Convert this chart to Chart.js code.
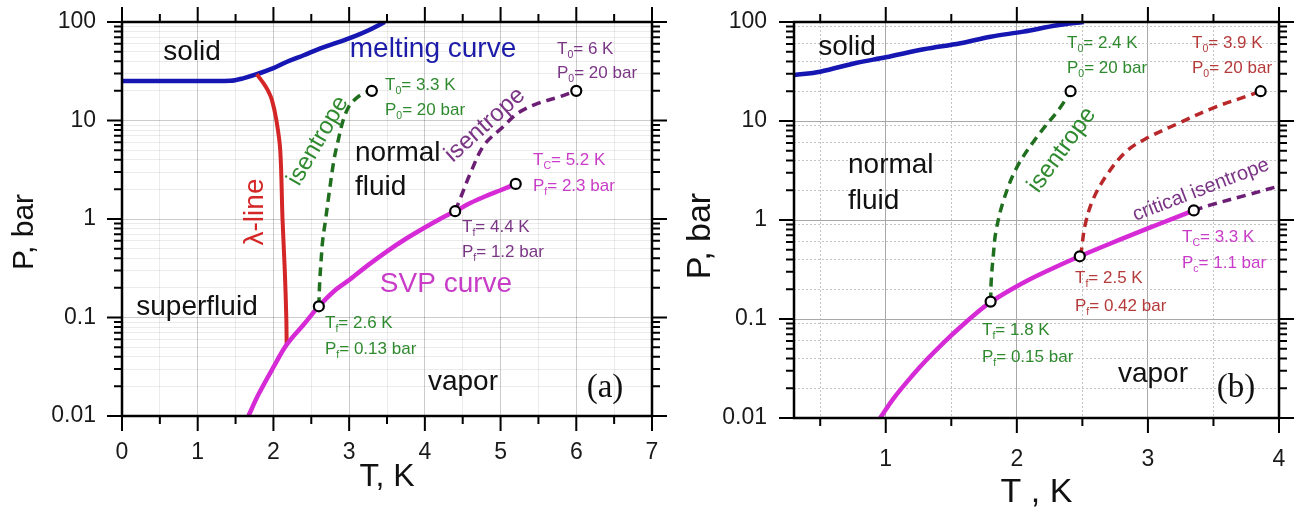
<!DOCTYPE html>
<html>
<head>
<meta charset="utf-8">
<script src="https://cdn.jsdelivr.net/npm/chart.js"></script>
<style>
html, body { margin: 0; padding: 0; background: #fff; }
body { width: 1302px; height: 514px; position: relative; overflow: hidden; }
.panel { position: absolute; top: 0; }
#panel-a { left: 0; }
#panel-b { left: 660px; }
</style>
</head>
<body>
<div class="panel" id="panel-a"><canvas id="chart-a" width="670" height="514"></canvas></div>
<div class="panel" id="panel-b"><canvas id="chart-b" width="642" height="514"></canvas></div>
<script>
// Axis ticks
const yDecades = [0.01, 0.1, 1, 10, 100];
const yTickLabels = ['0.01', '0.1', '1', '10', '100'];
const xTicksA = [0, 1, 2, 3, 4, 5, 6, 7];
const xTicksB = [1, 2, 3, 4];

// Panel (a): T in K, P in bar
const meltA_T = [0, 0.5, 1.0, 1.43, 1.6, 1.78, 2.0, 2.18, 2.4, 2.62, 2.85, 3.06, 3.25, 3.47];
const meltA_P = [25.2, 25.2, 25.2, 25.3, 26.8, 29.5, 34, 39.5, 46, 54, 62, 71, 82, 100];
const lambdaT = [1.78, 1.87, 1.93, 1.98, 2.04, 2.09, 2.12, 2.15, 2.17, 2.175];
const lambdaP = [29.5, 23.8, 20, 16.2, 10, 5, 1, 0.3, 0.1, 0.053];
const svpA_T = [1.67, 1.8, 2.0, 2.175, 2.4, 2.6, 2.8, 3.0, 3.25, 3.5, 3.75, 4.0, 4.2, 4.4, 4.6, 4.8, 5.0, 5.2];
const svpA_P = [0.01, 0.0164, 0.0313, 0.053, 0.085, 0.13, 0.185, 0.24, 0.34, 0.47, 0.63, 0.82, 1.0, 1.2, 1.45, 1.7, 1.96, 2.27];
const isoA1_T = [2.6, 2.61, 2.63, 2.65, 2.69, 2.73, 2.8, 2.86, 2.92, 3.0, 3.1, 3.2, 3.3];
const isoA1_P = [0.13, 0.22, 0.38, 0.6, 1.0, 1.7, 4.0, 6.5, 10, 14, 17, 19, 20];
const isoA2_T = [4.4, 4.47, 4.6, 4.78, 5.03, 5.23, 5.5, 5.77, 6.0];
const isoA2_P = [1.2, 1.63, 2.9, 5.6, 8.6, 11.9, 15, 17.3, 20];
const markA_T = [2.6, 3.3, 4.4, 5.2, 6.0];
const markA_P = [0.13, 20, 1.2, 2.27, 20];

// Panel (b)
const meltB_T = [0.3, 0.5, 0.78, 1.0, 1.29, 1.57, 1.8, 2.05, 2.31, 2.51];
const meltB_P = [29.2, 31.5, 38.8, 44, 53, 61, 71, 80, 92.7, 100];
const svpB_T = [0.957, 1.06, 1.21, 1.31, 1.44, 1.57, 1.72, 1.8, 1.95, 2.1, 2.3, 2.48, 2.7, 2.9, 3.1, 3.35];
const svpB_P = [0.01, 0.0158, 0.0275, 0.0385, 0.0575, 0.083, 0.123, 0.148, 0.196, 0.252, 0.337, 0.43, 0.569, 0.728, 0.927, 1.25];
const isoB1_T = [1.8, 1.805, 1.82, 1.84, 1.9, 2.0, 2.15, 2.33, 2.41];
const isoB1_P = [0.15, 0.25, 0.43, 0.76, 1.6, 3.4, 6.8, 13.6, 20];
const isoB2_T = [2.48, 2.49, 2.52, 2.58, 2.69, 2.84, 3.0, 3.22, 3.5, 3.76, 3.86];
const isoB2_P = [0.43, 0.47, 0.88, 1.6, 2.9, 5, 6.8, 9.3, 13.6, 17.9, 20];
const critB_T = [3.35, 3.48, 3.75, 4.0];
const critB_P = [1.25, 1.42, 1.78, 2.2];
const markB_T = [1.8, 2.41, 2.48, 3.86, 3.35];
const markB_P = [0.15, 20, 0.43, 20, 1.25];

const FONT = "'Liberation Sans', Arial, sans-serif";
const SERIF = "'Liberation Serif', 'Times New Roman', serif";
Chart.defaults.font.family = FONT;
Chart.defaults.color = '#1a1a1a';

const BLUE = '#1616b2', RED = '#d42626', MAGENTA = '#d52ad5';
const GREEN = '#1f6f1f', PURPLE = '#6c1e74', DARKRED = '#b8282a';
const T_GREEN = '#2f8a2f', T_PURPLE = '#7a3585', T_MAGENTA = '#c83cc8', T_RED = '#b53a3a', T_BLUE = '#1c1ca8';

// text labels (page pixel positions)
const notesA = [
    { text: 'P, bar', x: 25, y: 232, size: 30, rot: -90 },
    { text: 'solid', x: 192, y: 52, size: 28 },
    { text: 'melting curve', x: 433, y: 49, size: 28, color: T_BLUE },
    { text: 'normal', x: 355, y: 153, size: 28, align: 'left' },
    { text: 'fluid', x: 355, y: 187, size: 28, align: 'left' },
    { text: 'λ-line', x: 255, y: 212, size: 28, rot: -90, color: RED },
    { text: 'isentrope', x: 318, y: 141, size: 24, rot: -60, color: T_GREEN },
    { text: 'isentrope', x: 485, y: 125, size: 24, rot: -42, color: T_PURPLE },
    { text: 'superfluid', x: 197, y: 307, size: 28 },
    { text: 'SVP curve', x: 446, y: 284, size: 28, color: T_MAGENTA },
    { text: 'vapor', x: 463, y: 382, size: 28 },
    { text: '(a)', x: 605, y: 388, size: 33, serif: true },
    { text: 'T_0= 3.3 K', x: 385, y: 85, size: 17, align: 'left', color: T_GREEN },
    { text: 'P_0= 20 bar', x: 385, y: 110, size: 17, align: 'left', color: T_GREEN },
    { text: 'T_0= 6 K', x: 557, y: 49, size: 17, align: 'left', color: T_PURPLE },
    { text: 'P_0= 20 bar', x: 557, y: 73, size: 17, align: 'left', color: T_PURPLE },
    { text: 'T_C= 5.2 K', x: 533, y: 160, size: 17, align: 'left', color: T_MAGENTA },
    { text: 'P_f= 2.3 bar', x: 533, y: 186, size: 17, align: 'left', color: T_MAGENTA },
    { text: 'T_f= 4.4 K', x: 462, y: 227, size: 17, align: 'left', color: T_PURPLE },
    { text: 'P_f= 1.2 bar', x: 462, y: 252, size: 17, align: 'left', color: T_PURPLE },
    { text: 'T_f= 2.6 K', x: 325, y: 323, size: 17, align: 'left', color: T_GREEN },
    { text: 'P_f= 0.13 bar', x: 325, y: 349, size: 17, align: 'left', color: T_GREEN }
];
const notesB = [
    { text: 'P, bar', x: 701, y: 236, size: 34, rot: -90 },
    { text: 'solid', x: 847, y: 47, size: 28 },
    { text: 'normal', x: 848, y: 165, size: 28, align: 'left' },
    { text: 'fluid', x: 848, y: 201, size: 28, align: 'left' },
    { text: 'isentrope', x: 1062, y: 150, size: 24, rot: -54, color: T_GREEN },
    { text: 'critical isentrope', x: 1201, y: 190, size: 20, rot: -21, color: T_PURPLE },
    { text: 'vapor', x: 1153, y: 374, size: 28 },
    { text: '(b)', x: 1236, y: 388, size: 33, serif: true },
    { text: 'T_0= 2.4 K', x: 1067, y: 43, size: 17, align: 'left', color: T_GREEN },
    { text: 'P_0= 20 bar', x: 1067, y: 68, size: 17, align: 'left', color: T_GREEN },
    { text: 'T_0= 3.9 K', x: 1192, y: 43, size: 17, align: 'left', color: T_RED },
    { text: 'P_0= 20 bar', x: 1192, y: 68, size: 17, align: 'left', color: T_RED },
    { text: 'T_C= 3.3 K', x: 1182, y: 237, size: 17, align: 'left', color: T_MAGENTA },
    { text: 'P_c= 1.1 bar', x: 1182, y: 263, size: 17, align: 'left', color: T_MAGENTA },
    { text: 'T_f= 2.5 K', x: 1075, y: 278, size: 17, align: 'left', color: T_RED },
    { text: 'P_f= 0.42 bar', x: 1075, y: 306, size: 17, align: 'left', color: T_RED },
    { text: 'T_f= 1.8 K', x: 982, y: 330, size: 17, align: 'left', color: T_GREEN },
    { text: 'P_f= 0.15 bar', x: 982, y: 357, size: 17, align: 'left', color: T_GREEN }
];

function pts(T, P) {
    return T.map((t, i) => ({ x: t, y: P[i] }));
}

function curve(T, P, color, width, dash) {
    return {
        data: pts(T, P),
        showLine: true,
        borderColor: color,
        borderWidth: width,
        borderDash: dash || [],
        pointRadius: 0,
        pointHoverRadius: 0,
        tension: 0.35,
        fill: false
    };
}

function markers(T, P) {
    return {
        data: pts(T, P),
        showLine: false,
        pointRadius: 5,
        pointBackgroundColor: '#fff',
        pointBorderColor: '#000',
        pointBorderWidth: 2.2
    };
}

// log ticks: decades plus 2..9 minors
function logTicks() {
    const list = [];
    for (let k = 0; k < yDecades.length - 1; k++) {
        for (let m = 1; m <= 9; m++) list.push({ value: m * yDecades[k], major: m === 1, m: m });
    }
    list.push({ value: yDecades[yDecades.length - 1], major: true, m: 1 });
    return list;
}

function halfTicks(min, max) {
    const list = [];
    for (let v = Math.ceil(min * 2) / 2; v <= max + 1e-9; v += 0.5) list.push({ value: v });
    return list;
}

function drawRich(ctx, str, x, y, size, color) {
    const parts = [];
    for (let i = 0; i < str.length; i++) {
        if (str[i] === '_' && i + 1 < str.length) {
            parts.push({ t: str[i + 1], sub: true });
            i++;
        } else {
            if (!parts.length || parts[parts.length - 1].sub) parts.push({ t: '', sub: false });
            parts[parts.length - 1].t += str[i];
        }
    }
    ctx.fillStyle = color;
    ctx.textAlign = 'left';
    ctx.textBaseline = 'middle';
    let cx = x;
    parts.forEach(p => {
        const s = p.sub ? size * 0.62 : size;
        ctx.font = `${s}px ${FONT}`;
        ctx.fillText(p.t, cx, p.sub ? y + size * 0.38 : y);
        cx += ctx.measureText(p.t).width;
    });
}

function decor(offsetX, notes) {
    return {
        id: 'decor',
        afterDatasetsDraw(chart) {
            const ctx = chart.ctx;
            ctx.save();
            notes.forEach(n => {
                const color = n.color || '#111';
                const x = n.x - offsetX;
                if (n.align === 'left') {
                    drawRich(ctx, n.text, x, n.y, n.size, color);
                    return;
                }
                ctx.save();
                ctx.translate(x, n.y);
                if (n.rot) ctx.rotate(n.rot * Math.PI / 180);
                ctx.font = `${n.size}px ${n.serif ? SERIF : FONT}`;
                ctx.fillStyle = color;
                ctx.textAlign = 'center';
                ctx.textBaseline = 'middle';
                ctx.fillText(n.text, 0, 0);
                ctx.restore();
            });
            ctx.restore();
        },
        afterDraw(chart) {
            const { ctx, chartArea: a } = chart;
            const xs = chart.scales.x, ys = chart.scales.y;
            ctx.save();
            ctx.strokeStyle = '#000';
            ctx.lineWidth = 2;
            ctx.beginPath();
            xs.ticks.forEach(t => {
                const px = xs.getPixelForValue(t.value);
                const len = Number.isInteger(t.value) ? 15 : 8;
                ctx.moveTo(px, a.bottom); ctx.lineTo(px, a.bottom + len);
                ctx.moveTo(px, a.top); ctx.lineTo(px, a.top - len);
            });
            ys.ticks.forEach(t => {
                const py = ys.getPixelForValue(t.value);
                const len = t.major ? 15 : 8;
                ctx.moveTo(a.left, py); ctx.lineTo(a.left - len, py);
                ctx.moveTo(a.right, py); ctx.lineTo(a.right + len, py);
            });
            ctx.stroke();
            ctx.lineWidth = 2.5;
            ctx.strokeRect(a.left, a.top, a.right - a.left, a.bottom - a.top);
            ctx.restore();
        }
    };
}

function makeScales(o) {
    return {
        x: {
            type: 'linear',
            min: o.xMin,
            max: o.xMax,
            afterBuildTicks: s => { s.ticks = halfTicks(o.xMin, o.xMax); },
            afterFit: s => { s.height = o.xHeight; },
            ticks: {
                autoSkip: false,
                maxRotation: 0,
                padding: 0,
                color: '#1a1a1a',
                font: { size: 23 },
                callback: v => o.xLabels.includes(v) ? String(v) : ''
            },
            grid: {
                drawTicks: true,
                tickLength: o.xPad,
                tickColor: 'rgba(0,0,0,0)',
                color: c => o.gridColor(Number.isInteger(c.tick.value), true),
                lineWidth: 1
            },
            border: { display: false, dash: c => o.gridDash(Number.isInteger(c.tick.value), true) },
            title: {
                display: true,
                text: o.xTitle,
                color: '#111',
                font: { size: o.xTitleSize },
                padding: { top: 0, bottom: o.xTitlePad }
            }
        },
        y: {
            type: 'logarithmic',
            min: 0.01,
            max: 100,
            afterBuildTicks: s => { s.ticks = logTicks(); },
            afterFit: s => { s.width = o.yWidth; },
            ticks: {
                autoSkip: false,
                padding: 0,
                color: '#1a1a1a',
                font: { size: 23 },
                callback: v => {
                    const i = yDecades.indexOf(v);
                    return i >= 0 ? yTickLabels[i] : '';
                }
            },
            grid: {
                drawTicks: true,
                tickLength: o.yPad,
                tickColor: 'rgba(0,0,0,0)',
                color: c => o.gridColor(c.tick.major, o.yMinorShown(c.tick.m)),
                lineWidth: 1
            },
            border: { display: false, dash: c => o.gridDash(c.tick.major, true) }
        }
    };
}

const baseOptions = {
    responsive: false,
    animation: false,
    events: [],
    plugins: { legend: { display: false }, tooltip: { enabled: false } }
};

// Panel (a)
new Chart(document.getElementById('chart-a'), {
    type: 'scatter',
    data: {
        datasets: [
            markers(markA_T, markA_P),
            curve(isoA1_T, isoA1_P, GREEN, 3.5, [9, 6]),
            curve(isoA2_T, isoA2_P, PURPLE, 3.5, [9, 6]),
            curve(svpA_T, svpA_P, MAGENTA, 4.5),
            curve(lambdaT, lambdaP, RED, 4),
            curve(meltA_T, meltA_P, BLUE, 4.5)
        ]
    },
    options: Object.assign({}, baseOptions, {
        layout: { padding: { left: 0, right: 18, top: 22, bottom: 0 } },
        scales: makeScales({
            xMin: 0, xMax: 7, xLabels: xTicksA, xHeight: 98, xPad: 23,
            xTitle: 'T, K', xTitleSize: 32, xTitlePad: 18,
            yWidth: 122, yPad: 26,
            yMinorShown: () => true,
            gridColor: (major, shown) => major ? 'rgba(0,0,0,0.2)' : 'rgba(0,0,0,0.08)',
            gridDash: () => []
        })
    }),
    plugins: [decor(0, notesA)]
});

// Panel (b)
new Chart(document.getElementById('chart-b'), {
    type: 'scatter',
    data: {
        datasets: [
            markers(markB_T, markB_P),
            curve(isoB1_T, isoB1_P, GREEN, 3.5, [9, 6]),
            curve(isoB2_T, isoB2_P, DARKRED, 3.5, [9, 6]),
            curve(critB_T, critB_P, PURPLE, 3.5, [9, 6]),
            curve(svpB_T, svpB_P, MAGENTA, 4.5),
            curve(meltB_T, meltB_P, BLUE, 4.5)
        ]
    },
    options: Object.assign({}, baseOptions, {
        layout: { padding: { left: 0, right: 23, top: 22, bottom: 0 } },
        scales: makeScales({
            xMin: 0.3, xMax: 4, xLabels: xTicksB, xHeight: 96, xPad: 28,
            xTitle: 'T , K', xTitleSize: 34, xTitlePad: 1,
            yWidth: 134, yPad: 27,
            yMinorShown: m => [2, 4, 6, 9].includes(m),
            gridColor: (major, shown) => major ? '#a8a8a8' : (shown ? '#c4c4c4' : 'rgba(0,0,0,0)'),
            gridDash: major => major ? [] : [2, 2]
        })
    }),
    plugins: [decor(660, notesB)]
});
</script>
</body>
</html>
